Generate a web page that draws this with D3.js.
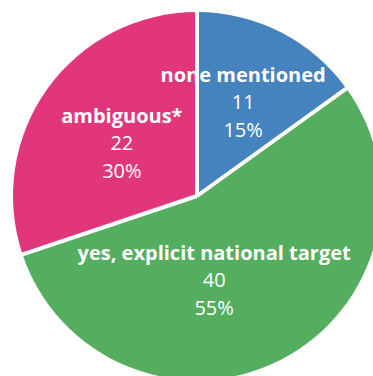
<!DOCTYPE html>
<html>
<head>
<meta charset="utf-8">
<script src="https://cdn.jsdelivr.net/npm/d3@7"></script>
<style>
  html, body { margin: 0; padding: 0; background: #fff; }
  svg { display: block; }
</style>
</head>
<body>
<svg id="chart" width="373" height="376"></svg>
<script>
// Share of plans by type of target
const categories = ["none mentioned", "yes, explicit national target", "ambiguous*"];
const counts = [11, 40, 22];
const percents = ["15%", "55%", "30%"];
const colors = ["#4583bf", "#55ad5f", "#e2367b"];

const width = 373, height = 376;
const cx = 197, cy = 196, radius = 184;

const svg = d3.select("#chart");
const g = svg.append("g").attr("transform", `translate(${cx},${cy})`);

const pie = d3.pie().sort(null).value(d => d.count);
const slices = pie(categories.map((c, i) => ({ name: c, count: counts[i], pct: percents[i], color: colors[i] })));

const arc = d3.arc().innerRadius(0).outerRadius(radius);
const labelArc = d3.arc().innerRadius(radius * 0.55).outerRadius(radius * 0.55);

g.selectAll("path.slice")
  .data(slices)
  .join("path")
  .attr("class", "slice")
  .attr("d", arc)
  .attr("fill", d => d.data.color);

// label nudges so each block sits comfortably inside its slice
const nudge = [[0, 0], [-29, -2], [7, 10]];

const labels = g.selectAll("g.label")
  .data(slices)
  .join("g")
  .attr("class", "label")
  .attr("transform", (d, i) => {
    const [x, y] = labelArc.centroid(d);
    return `translate(${x + nudge[i][0]},${y + nudge[i][1]})`;
  });

labels.append("text")
  .attr("text-anchor", "middle")
  .attr("y", -24)
  .attr("fill", "#fff")
  .style("font-family", "'Open Sans', sans-serif")
  .style("font-weight", 700)
  .style("font-size", "20px")
  .text(d => d.data.name);

labels.append("text")
  .attr("text-anchor", "middle")
  .attr("y", 3)
  .attr("fill", "#fff")
  .style("font-family", "'Open Sans', sans-serif")
  .style("font-weight", 400)
  .style("font-size", "20px")
  .text(d => d.data.count);

labels.append("text")
  .attr("text-anchor", "middle")
  .attr("y", 31)
  .attr("fill", "#fff")
  .style("font-family", "'Open Sans', sans-serif")
  .style("font-weight", 400)
  .style("font-size", "20px")
  .text(d => d.data.pct);

// white separators drawn over the labels
g.selectAll("line.sep")
  .data(slices)
  .join("line")
  .attr("class", "sep")
  .attr("x1", 0).attr("y1", 0)
  .attr("x2", d => radius * 1.02 * Math.sin(d.startAngle))
  .attr("y2", d => -radius * 1.02 * Math.cos(d.startAngle))
  .attr("stroke", "#fff")
  .attr("stroke-width", 4);
</script>
</body>
</html>
